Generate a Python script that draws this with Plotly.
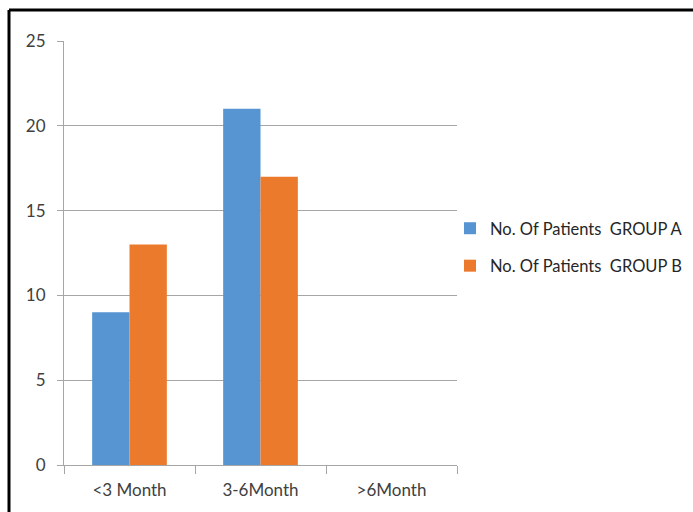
import plotly.graph_objects as go

categories = ["<3 Month", "3-6Month", ">6Month"]
group_a = [9, 21, 0]
group_b = [13, 17, 0]
series_names = ["No. Of Patients \u00a0GROUP A", "No. Of Patients \u00a0GROUP B"]
y_ticks = [0, 5, 10, 15, 20, 25]

W, H = 693, 512
L, R, T, B = 64, 236, 41, 47
pw, ph = W - L - R, H - T - B

fig = go.Figure()
fig.add_trace(go.Bar(x=categories, y=group_a, name=series_names[0],
                     marker=dict(color="#5694d2", line=dict(width=0)),
                     legendgroup="a"))
fig.add_trace(go.Bar(x=categories, y=group_b, name=series_names[1],
                     marker=dict(color="#ec7a2c", line=dict(width=0)),
                     legendgroup="b"))

font = "Lato, 'Open Sans', sans-serif"

def px_x(p):
    return (p - L) / pw

def px_y(p):
    return (H - B - p) / ph

fig.update_layout(
    width=W, height=H,
    margin=dict(l=L, r=R, t=T, b=B, autoexpand=False),
    paper_bgcolor="white", plot_bgcolor="white",
    barmode="group", bargap=0.43, bargroupgap=0,
    font=dict(family=font, size=17, color="#404040"),
    showlegend=True,
    legend=dict(x=px_x(450), y=px_y(211), xanchor="left", yanchor="top",
                font=dict(family=font, size=16.5, color="#262626"),
                tracegroupgap=13, itemwidth=30, bgcolor="rgba(0,0,0,0)"),
    xaxis=dict(showline=True, linecolor="#a6a6a6", linewidth=1,
               ticks="outside", tickson="boundaries", ticklen=8, tickcolor="#a6a6a6",
               ticklabelstandoff=10,
               showgrid=False, tickfont=dict(size=17, color="#404040")),
    yaxis=dict(range=[0, 25], tickvals=y_ticks, showline=True, linecolor="#a6a6a6",
               linewidth=1, ticks="outside", ticklen=6, tickcolor="#a6a6a6",
               ticklabelstandoff=8,
               showgrid=True, gridcolor="#a6a6a6", gridwidth=1, zeroline=False,
               tickfont=dict(size=17, color="#404040")),
    shapes=[
        dict(type="line", xref="paper", yref="paper", x0=px_x(9), x1=px_x(700),
             y0=px_y(10), y1=px_y(10), line=dict(color="black", width=3)),
        dict(type="line", xref="paper", yref="paper", x0=px_x(9), x1=px_x(9),
             y0=px_y(10), y1=px_y(520), line=dict(color="black", width=3)),
    ],
)

fig.write_html("out.html")
